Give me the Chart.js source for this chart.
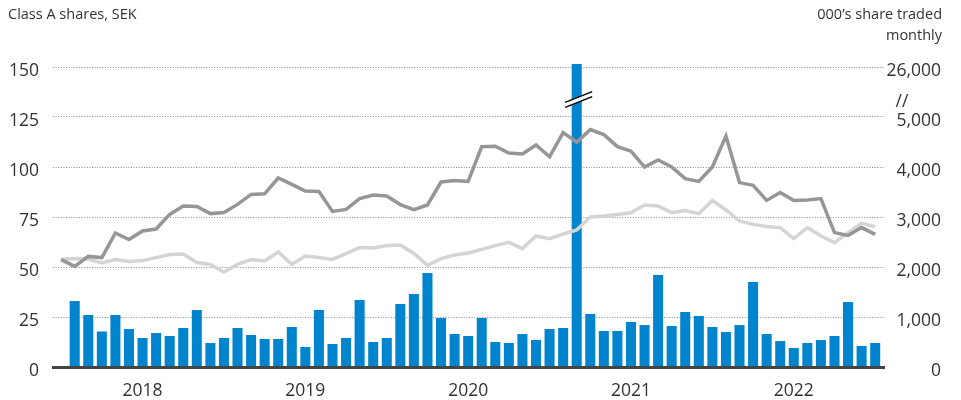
<!DOCTYPE html>
<html><head><meta charset="utf-8">
<script src="https://cdn.jsdelivr.net/npm/chart.js@4"></script>
<style>html,body{margin:0;padding:0;background:#fff}</style>
</head><body>
<canvas id="c" width="961" height="400"></canvas>
<script>
// Months (x categories): Dec 2017 .. Dec 2022
const months = [
 '2017-12',
 '2018-01','2018-02','2018-03','2018-04','2018-05','2018-06','2018-07','2018-08','2018-09','2018-10','2018-11','2018-12',
 '2019-01','2019-02','2019-03','2019-04','2019-05','2019-06','2019-07','2019-08','2019-09','2019-10','2019-11','2019-12',
 '2020-01','2020-02','2020-03','2020-04','2020-05','2020-06','2020-07','2020-08','2020-09','2020-10','2020-11','2020-12',
 '2021-01','2021-02','2021-03','2021-04','2021-05','2021-06','2021-07','2021-08','2021-09','2021-10','2021-11','2021-12',
 '2022-01','2022-02','2022-03','2022-04','2022-05','2022-06','2022-07','2022-08','2022-09','2022-10','2022-11','2022-12'
];
// Class A share price, SEK (dark grey line)
const sharePrice = [
 53.7,
 50.3,55.3,54.7,67,63.7,68,69,76.3,80.5,80.3,76.7,77.2,
 81.3,86.3,86.6,94.5,91.3,88,87.8,77.8,78.8,84.2,86,85.5,
 81.2,78.7,81,92.5,93.3,92.8,110.2,110.4,107,106.5,111,105.1,
 117.2,112.4,118.7,116.2,110.2,107.9,100,103.5,100,94.2,92.8,100,
 115.5,92.2,90.8,83.3,87.2,83.2,83.5,84.2,67.2,65.8,69.7,66.3
];
// Comparison line (light grey)
const comparison = [
 53.8,
 54.2,54,52,53.7,52.8,53.2,54.7,56.2,56.5,52.2,51.3,47.5,
 51.3,53.7,53,57.5,51.3,55.5,54.8,53.8,56.7,59.7,59.5,60.7,
 61,56.8,50.8,54.2,56,57,58.8,60.7,62.3,59.2,65.5,64.2,
 66.5,68.5,75,75.5,76.3,77.1,81,80.5,77.2,78.2,76.7,83.3,
 78.5,73,71.3,70.2,69.7,64.2,69.7,65.5,62.2,67.2,71.8,70.2
];
// 000's shares traded monthly (bars)
const volume = [
 null,
 1320,1040,710,1040,760,580,680,620,780,1140,480,580,
 780,640,560,560,800,400,1140,460,580,1340,500,580,
 1260,1460,1880,980,660,620,980,500,480,660,540,760,
 780,26000,1060,720,720,900,840,1840,820,1100,1020,800,
 700,840,1700,660,520,380,480,540,620,1300,420,480
];
const yearLabels = ['2018','2019','2020','2021','2022'];
const leftTicks = [0,25,50,75,100,125,150];
const rightTickValues = [0,1000,2000,3000,4000,5000,6000];
const rightTickLabels = ['0','1,000','2,000','3,000','4,000','5,000','26,000'];

const AXIS_TOP_VOL = 6000;      // right-axis top stands for 26,000 (broken axis)
const BROKEN_BAR_SHOWN = 6060;  // broken bar drawn just past the axis top
const BREAK_MARK = 5350;        // where the "//" break marks sit on the right axis

const FONT = '"Open Sans", "Liberation Sans", sans-serif';
const TEXT = '#333333';

const yearPos = yearLabels.map(y => months.indexOf(y + '-06'));

const barData = volume.map((v, i) => ({x: i, y: v == null ? null : (v > AXIS_TOP_VOL ? BROKEN_BAR_SHOWN : v)}));
const priceData = sharePrice.map((v, i) => ({x: i, y: v}));
const compData = comparison.map((v, i) => ({x: i, y: v}));

const decor = {
  id: 'decor',
  afterDatasetsDraw(chart) {
    const ctx = chart.ctx;
    const meta = chart.getDatasetMeta(0);
    const y1 = chart.scales.y1;
    const yc = y1.getPixelForValue(BREAK_MARK);
    volume.forEach((v, i) => {
      if (v != null && v > AXIS_TOP_VOL) {
        const el = meta.data[i];
        const cx = el.x + 2;
        const hl = 13.5, sl = 0.4, g = 2.5;
        ctx.save();
        ctx.fillStyle = '#ffffff';
        ctx.beginPath();
        ctx.moveTo(cx - hl, yc - g + hl * sl);
        ctx.lineTo(cx + hl, yc - g - hl * sl);
        ctx.lineTo(cx + hl, yc + g - hl * sl);
        ctx.lineTo(cx - hl, yc + g + hl * sl);
        ctx.closePath();
        ctx.fill();
        ctx.strokeStyle = '#000000';
        ctx.lineWidth = 1.5;
        ctx.beginPath();
        ctx.moveTo(cx - hl, yc - g + hl * sl);
        ctx.lineTo(cx + hl, yc - g - hl * sl);
        ctx.moveTo(cx - hl, yc + g + hl * sl);
        ctx.lineTo(cx + hl, yc + g - hl * sl);
        ctx.stroke();
        ctx.restore();
      }
    });
  },
  afterDraw(chart) {
    const ctx = chart.ctx;
    const y1 = chart.scales.y1;
    ctx.save();
    ctx.fillStyle = TEXT;
    ctx.textBaseline = 'middle';
    ctx.font = '14.5px ' + FONT;
    ctx.textAlign = 'left';
    ctx.fillText('Class A shares, SEK', 8, 15);
    ctx.textAlign = 'right';
    ctx.fillText('000\u2019s share traded', 942, 15);
    ctx.fillText('monthly', 942, 36);
    ctx.font = '17.5px ' + FONT;
    ctx.textAlign = 'center';
    ctx.fillText('//', y1.left + 18, y1.getPixelForValue(BREAK_MARK) + 3);
    ctx.restore();
  }
};

new Chart(document.getElementById('c'), {
  type: 'bar',
  data: {
    datasets: [
      {type: 'bar', label: 'Volume', data: barData, yAxisID: 'y1', backgroundColor: '#0084CE',
       barPercentage: 0.74, categoryPercentage: 1, order: 3, clip: false},
      {type: 'line', label: 'Comparison', data: compData, yAxisID: 'y', borderColor: '#d4d4d4',
       borderWidth: 3.5, pointRadius: 0, tension: 0, order: 2},
      {type: 'line', label: 'Class A', data: priceData, yAxisID: 'y', borderColor: '#969696',
       borderWidth: 3.5, pointRadius: 0, tension: 0, order: 1}
    ]
  },
  options: {
    responsive: false,
    animation: false,
    layout: {padding: {top: 67, right: 20, bottom: 0, left: 0}},
    plugins: {legend: {display: false}, tooltip: {enabled: false}, title: {display: false}},
    scales: {
      x: {
        type: 'linear', min: -0.6, max: 60.65, offset: false,
        grid: {display: false, offset: false},
        border: {display: true, color: '#444444', width: 3, z: 1},
        afterBuildTicks: s => { s.ticks = yearPos.map(v => ({value: v})); },
        afterFit: s => { s.height = 33; },
        ticks: {autoSkip: false, maxRotation: 0, padding: 6, color: TEXT,
                font: {family: FONT, size: 17.5},
                callback: (v, i) => yearLabels[i]}
      },
      y: {
        position: 'left', min: 0, max: 150,
        afterBuildTicks: s => { s.ticks = leftTicks.map(v => ({value: v})); },
        afterFit: s => { s.width = 53; },
        grid: {drawTicks: false, lineWidth: 1,
               color: c => (c.tick && c.tick.value === 0) ? 'rgba(0,0,0,0)' : '#8c8c8c'},
        border: {display: false, dash: [1, 1.6]},
        ticks: {padding: 14, labelOffset: 4, color: TEXT, font: {family: FONT, size: 17.5}}
      },
      y1: {
        position: 'right', min: 0, max: AXIS_TOP_VOL,
        afterBuildTicks: s => { s.ticks = rightTickValues.map(v => ({value: v})); },
        afterFit: s => { s.width = 57; },
        grid: {display: false, drawOnChartArea: false, drawTicks: false},
        border: {display: false},
        ticks: {crossAlign: 'far', padding: 0, labelOffset: 4, color: TEXT,
                font: {family: FONT, size: 17.5},
                callback: (v, i) => rightTickLabels[i]}
      }
    }
  },
  plugins: [decor]
});
</script>
</body></html>
